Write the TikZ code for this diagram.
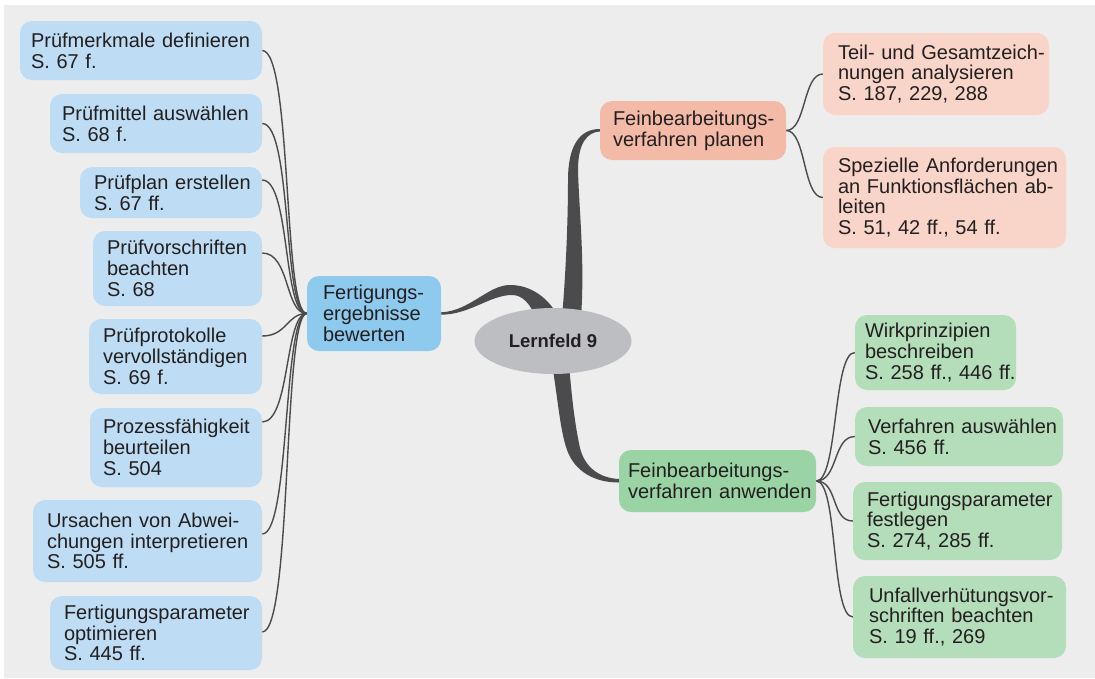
\documentclass[tikz,border=0pt]{standalone}
\usepackage{fontspec}
\setmainfont{Liberation Sans}
\usetikzlibrary{shapes.geometric,backgrounds}
\definecolor{bgc}{HTML}{EDEDED}
\definecolor{lblue}{HTML}{BEDDF4}
\definecolor{mblue}{HTML}{8EC9EE}
\definecolor{morange}{HTML}{F3BAA8}
\definecolor{lorange}{HTML}{F8D5C8}
\definecolor{mgreen}{HTML}{9AD3A4}
\definecolor{lgreen}{HTML}{B4DDB9}
\definecolor{hubc}{HTML}{BDBEC2}
\definecolor{linec}{HTML}{4B4B4D}
\definecolor{txt}{HTML}{231F20}
\begin{document}
\begin{tikzpicture}[x=1pt,y=-1pt,
  box/.style={rounded corners=12pt, inner xsep=0pt, inner ysep=0pt, align=left, text=txt,
    font=\fontsize{20}{20.8}\selectfont,
    execute at begin node={\hyphenpenalty=10000 \exhyphenpenalty=10000 }},
  lb/.style={box, fill=lblue},
  mb/.style={box, fill=mblue},
  lo/.style={box, fill=lorange},
  mo/.style={box, fill=morange},
  lg/.style={box, fill=lgreen},
  mg/.style={box, fill=mgreen},
  link/.style={draw=linec, line width=1.4pt},
  branch/.style={fill=linec, draw=none}
]
\useasboundingbox (0,0) rectangle (1095,678);
\begin{scope}[on background layer]
  \fill[white] (0,0) rectangle (1095,678);
  \fill[bgc] (4,5) rectangle (1095,678);
\end{scope}

% hub
\node[ellipse, fill=hubc, minimum width=157pt, minimum height=66pt, inner sep=0pt, text=txt,
  font=\fontsize{18.5}{20}\selectfont\bfseries] (hub) at (553,341) {Lernfeld 9};

% main branches
\node[mb, minimum width=134pt, minimum height=75pt, text width=102pt] (fb) at (374,313.5)
  {Fertigungs-\\ergebnisse\\bewerten};
\node[mo, minimum width=186pt, minimum height=59pt, text width=160pt] (om) at (693,130.5)
  {Feinbearbeitungs-\\verfahren~planen};
\node[mg, minimum width=197pt, minimum height=62pt, text width=179pt] (gm) at (717.5,481)
  {Feinbearbeitungs-\\verfahren~anwenden};

% left leaves
\node[lb, minimum width=242pt, minimum height=59pt, text width=220pt] (b1) at (141,50.5)
  {Prüfmerkmale~definieren\\S.~67~f.};
\node[lb, minimum width=212pt, minimum height=59pt, text width=188pt] (b2) at (156,123.5)
  {Prüfmittel~auswählen\\S.~68~f.};
\node[lb, minimum width=182pt, minimum height=51pt, text width=154pt] (b3) at (171,192.5)
  {Prüfplan~erstellen\\S.~67~ff.};
\node[lb, minimum width=169pt, minimum height=75pt, text width=141pt] (b4) at (177.5,268.5)
  {Prüfvorschriften\\beachten\\S.~68};
\node[lb, minimum width=173pt, minimum height=75pt, text width=145pt] (b5) at (175.5,356.5)
  {Prüfprotokolle\\vervollständigen\\S.~69~f.};
\node[lb, minimum width=172pt, minimum height=79pt, text width=146pt] (b6) at (176,447.5)
  {Prozessfähigkeit\\beurteilen\\S.~504};
\node[lb, minimum width=229pt, minimum height=82pt, text width=201pt] (b7) at (147.5,541)
  {Ursachen~von~Abwei-\\chungen~interpretieren\\S.~505~ff.};
\node[lb, minimum width=212pt, minimum height=74pt, text width=184pt] (b8) at (156,633)
  {Fertigungsparameter\\optimieren\\S.~445~ff.};

% orange leaves
\node[lo, minimum width=226pt, minimum height=82pt, text width=196pt] (teil) at (936,74)
  {Teil-~und~Gesamtzeich-\\nungen~analysieren\\S.~187,~229,~288};
\node[lo, minimum width=243pt, minimum height=101pt, text width=213pt] (spez) at (944.5,197.5)
  {Spezielle~Anforderungen\\an~Funktionsflächen~ab-\\leiten\\S.~51,~42~ff.,~54~ff.};

% green leaves
\node[lg, minimum width=161pt, minimum height=75pt, text width=141pt] (wirk) at (935.5,352.5)
  {Wirkprinzipien\\beschreiben\\S.~258~ff.,~446~ff.};
\node[lg, minimum width=208pt, minimum height=59pt, text width=182pt] (verf) at (959,436.5)
  {Verfahren~auswählen\\S.~456~ff.};
\node[lg, minimum width=209pt, minimum height=78pt, text width=181pt] (fert) at (957.5,521)
  {Fertigungsparameter\\festlegen\\S.~274,~285~ff.};
\node[lg, minimum width=213pt, minimum height=82pt, text width=181pt] (unf) at (959.5,617)
  {Unfallverhütungsvor-\\schriften~beachten\\S.~19~ff.,~269};

\begin{scope}[on background layer]
  % thick tapered branches
  \fill[branch] ([yshift=1.2pt]fb.east) .. controls (470,311) and (488,285) .. (510,285)
     .. controls (531,285) and (549,298) .. (559,318) -- (536,318)
     .. controls (530,303) and (522,295) .. (512,295)
     .. controls (490,295) and (470,314.5) .. ([yshift=-1.2pt]fb.east) -- cycle;
  \fill[branch] (562,318) .. controls (566,270) and (568,220) .. (568,180)
     .. controls (568,145) and (580,129) .. ([yshift=1.5pt]om.west)
     -- ([yshift=-1pt]om.west) .. controls (588,132) and (578,142) .. (578,170)
     .. controls (579,210) and (585,260) .. (581,318) -- cycle;
  \fill[branch] (552,364) .. controls (558,400) and (560,430) .. (567,450)
     .. controls (575,472) and (595,482.5) .. ([yshift=-1.5pt]gm.west)
     -- ([yshift=2pt]gm.west) .. controls (600,478) and (585,468) .. (580,448)
     .. controls (575,425) and (572,400) .. (569,364) -- cycle;

  % thin links, left
  \draw[link] (b1.east) .. controls +(30,0) and +(-24,0) .. (fb.west);
  \draw[link] (b2.east) .. controls +(30,0) and +(-24,0) .. (fb.west);
  \draw[link] ([yshift=12.5pt]b3.east) .. controls +(28,0) and +(-24,0) .. (fb.west);
  \draw[link] ([yshift=15.5pt]b4.east) .. controls +(28,0) and +(-22,0) .. (fb.west);
  \draw[link] ([yshift=20.5pt]b5.east) .. controls +(25,0) and +(-20,0) .. (fb.west);
  \draw[link] ([yshift=25.5pt]b6.east) .. controls +(28,0) and +(-22,0) .. (fb.west);
  \draw[link] ([yshift=7pt]b7.east) .. controls +(28,0) and +(-24,0) .. (fb.west);
  \draw[link] ([yshift=1pt]b8.east) .. controls +(30,0) and +(-24,0) .. (fb.west);
  % thin links, orange
  \draw[link] (om.east) .. controls +(20,0) and +(-20,0) .. (teil.west);
  \draw[link] (om.east) .. controls +(20,0) and +(-20,0) .. (spez.west);
  % thin links, green
  \draw[link] (gm.east) .. controls +(22,0) and +(-22,0) .. (wirk.west);
  \draw[link] (gm.east) .. controls +(22,0) and +(-22,0) .. (verf.west);
  \draw[link] (gm.east) .. controls +(22,0) and +(-22,0) .. (fert.west);
  \draw[link] (gm.east) .. controls +(22,0) and +(-22,0) .. (unf.west);
\end{scope}
\end{tikzpicture}
\end{document}
